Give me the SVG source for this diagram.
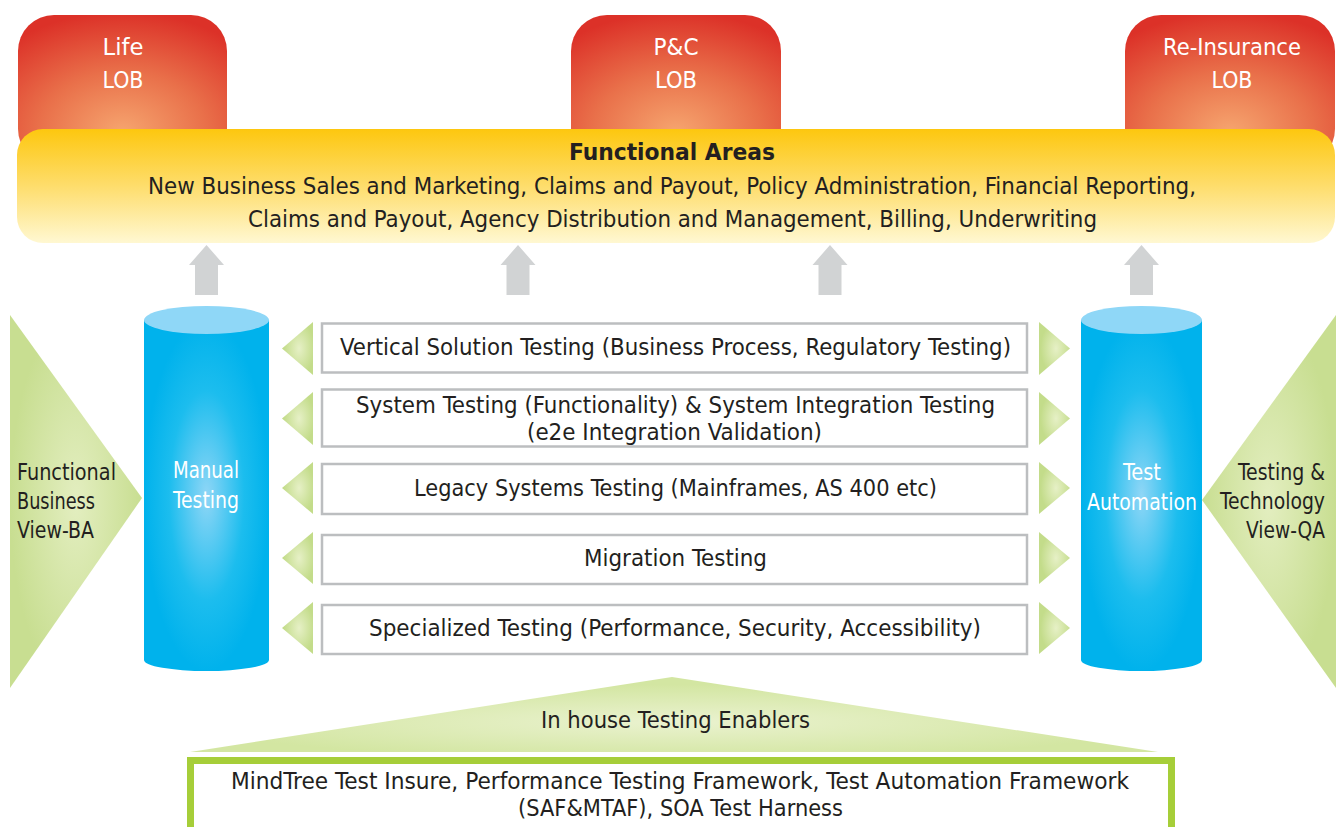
<svg xmlns="http://www.w3.org/2000/svg" width="1336" height="827" viewBox="0 0 1336 827">
<defs>
<radialGradient id="gLob" cx="0.5" cy="0.78" r="0.8">
<stop offset="0" stop-color="#F6A56F"/>
<stop offset="0.5" stop-color="#E9704A"/>
<stop offset="1" stop-color="#DC3128"/>
</radialGradient>
<linearGradient id="gYel" x1="0" y1="0" x2="0" y2="1">
<stop offset="0" stop-color="#FDC70F"/>
<stop offset="0.5" stop-color="#FEDD6C"/>
<stop offset="1" stop-color="#FFF8D2"/>
</linearGradient>
<radialGradient id="gCyl" cx="0.5" cy="0.5" r="0.5">
<stop offset="0" stop-color="#8FD6F6"/>
<stop offset="0.6" stop-color="#1CBDEE"/>
<stop offset="1" stop-color="#00B2EC"/>
</radialGradient>
<radialGradient id="gGreen" cx="0.5" cy="0.5" r="0.5">
<stop offset="0" stop-color="#E3EEC0"/>
<stop offset="1" stop-color="#C8DE91"/>
</radialGradient>
<radialGradient id="gTri" cx="0.55" cy="0.5" r="0.5">
<stop offset="0" stop-color="#E6F0C6"/>
<stop offset="1" stop-color="#C3DC8A"/>
</radialGradient>
<radialGradient id="gBase" cx="0.5" cy="0.6" r="0.5">
<stop offset="0" stop-color="#EAF2CF"/>
<stop offset="1" stop-color="#D3E6A2"/>
</radialGradient>
<style>
.t{font-family:"DejaVu Sans Condensed","Noto Sans","DejaVu Sans",sans-serif;font-size:22.5px;fill:#231F20}
.w{fill:#FFFFFF}
.c{text-anchor:middle}
.e{text-anchor:end}
.b{font-weight:bold;font-size:23.5px}
.box{fill:#FFFFFF;stroke:#BCBEC0;stroke-width:2.5}
.ga{fill:#D1D3D4}
.st{fill:url(#gTri)}
</style>
</defs>

<g id="lob-life">
<rect x="18" y="15" width="209" height="150" rx="36" fill="url(#gLob)"/>
<text class="t w c" x="123" y="55" textLength="41" lengthAdjust="spacingAndGlyphs">Life</text>
<text class="t w c" x="123" y="88" textLength="41" lengthAdjust="spacingAndGlyphs">LOB</text>
</g>
<g id="lob-pc">
<rect x="571" y="15" width="210" height="150" rx="36" fill="url(#gLob)"/>
<text class="t w c" x="676" y="55" textLength="45" lengthAdjust="spacingAndGlyphs">P&amp;C</text>
<text class="t w c" x="676" y="88" textLength="42" lengthAdjust="spacingAndGlyphs">LOB</text>
</g>
<g id="lob-reins">
<rect x="1125" y="15" width="210" height="150" rx="36" fill="url(#gLob)"/>
<text class="t w c" x="1232" y="55" textLength="138" lengthAdjust="spacingAndGlyphs">Re-Insurance</text>
<text class="t w c" x="1232" y="88" textLength="41" lengthAdjust="spacingAndGlyphs">LOB</text>
</g>

<g id="functional-areas">
<rect x="17" y="129" width="1318" height="114" rx="26" fill="url(#gYel)"/>
<text class="t b c" x="672" y="160" textLength="206" lengthAdjust="spacingAndGlyphs">Functional Areas</text>
<text class="t c" x="672" y="194" textLength="1048" lengthAdjust="spacingAndGlyphs">New Business Sales and Marketing, Claims and Payout, Policy Administration, Financial Reporting,</text>
<text class="t c" x="672.5" y="227" textLength="849" lengthAdjust="spacingAndGlyphs">Claims and Payout, Agency Distribution and Management, Billing, Underwriting</text>
</g>

<g id="connectors">
<polygon class="ga" points="206.5,245 224,265 218,265 218,295 195,295 195,265 189,265"/>
<polygon class="ga" points="518,245 535.5,265 529.5,265 529.5,295 506.5,295 506.5,265 500.5,265"/>
<polygon class="ga" points="830,245 847.5,265 841.5,265 841.5,295 818.5,295 818.5,265 812.5,265"/>
<polygon class="ga" points="1141.5,245 1159,265 1153,265 1153,295 1130,295 1130,265 1124,265"/>
<polygon class="st" points="282,348.5 313,322 313,375"/>
<polygon class="st" points="282,418.5 313,392 313,445"/>
<polygon class="st" points="282,488 313,462 313,514"/>
<polygon class="st" points="282,558 313,532 313,584"/>
<polygon class="st" points="282,628 313,602 313,654"/>
<polygon class="st" points="1070,348.5 1039,322 1039,375"/>
<polygon class="st" points="1070,418.5 1039,392 1039,445"/>
<polygon class="st" points="1070,488 1039,462 1039,514"/>
<polygon class="st" points="1070,558 1039,532 1039,584"/>
<polygon class="st" points="1070,628 1039,602 1039,654"/>
</g>

<g id="view-ba">
<polygon points="10,315 142,498 10,688" fill="url(#gGreen)"/>
<text class="t" x="17" y="480" textLength="99" lengthAdjust="spacingAndGlyphs">Functional</text>
<text class="t" x="17" y="509" textLength="78" lengthAdjust="spacingAndGlyphs">Business</text>
<text class="t" x="17" y="538" textLength="77" lengthAdjust="spacingAndGlyphs">View-BA</text>
</g>
<g id="view-qa">
<polygon points="1336,315 1202,500 1336,688" fill="url(#gGreen)"/>
<text class="t e" x="1325" y="480" textLength="87" lengthAdjust="spacingAndGlyphs">Testing &amp;</text>
<text class="t e" x="1325" y="509" textLength="105" lengthAdjust="spacingAndGlyphs">Technology</text>
<text class="t e" x="1325" y="538" textLength="79" lengthAdjust="spacingAndGlyphs">View-QA</text>
</g>

<g id="manual-testing">
<path d="M144,320 L144,660 A62.5,11 0 0 0 269,660 L269,320 Z" fill="url(#gCyl)"/>
<ellipse cx="206.5" cy="320" rx="62.5" ry="14" fill="#8FD7F7"/>
<text class="t w c" x="206" y="478" textLength="66" lengthAdjust="spacingAndGlyphs">Manual</text>
<text class="t w c" x="206" y="508" textLength="66" lengthAdjust="spacingAndGlyphs">Testing</text>
</g>
<g id="test-automation">
<path d="M1081,320 L1081,660 A60.5,11 0 0 0 1202,660 L1202,320 Z" fill="url(#gCyl)"/>
<ellipse cx="1141.5" cy="320" rx="60.5" ry="14" fill="#8FD7F7"/>
<text class="t w c" x="1142" y="480" textLength="38" lengthAdjust="spacingAndGlyphs">Test</text>
<text class="t w c" x="1142" y="510" textLength="110" lengthAdjust="spacingAndGlyphs">Automation</text>
</g>

<g id="vertical-solution">
<rect class="box" x="322" y="323.5" width="705" height="49"/>
<text class="t c" x="675.5" y="355" textLength="671" lengthAdjust="spacingAndGlyphs">Vertical Solution Testing (Business Process, Regulatory Testing)</text>
</g>
<g id="system-testing">
<rect class="box" x="322" y="389.5" width="705" height="57"/>
<text class="t c" x="675.5" y="413" textLength="639" lengthAdjust="spacingAndGlyphs">System Testing (Functionality) &amp; System Integration Testing</text>
<text class="t c" x="674.5" y="440" textLength="295" lengthAdjust="spacingAndGlyphs">(e2e Integration Validation)</text>
</g>
<g id="legacy">
<rect class="box" x="322" y="464" width="705" height="50"/>
<text class="t c" x="675.5" y="496" textLength="523" lengthAdjust="spacingAndGlyphs">Legacy Systems Testing (Mainframes, AS 400 etc)</text>
</g>
<g id="migration">
<rect class="box" x="322" y="535" width="705" height="49"/>
<text class="t c" x="675.5" y="566" textLength="183" lengthAdjust="spacingAndGlyphs">Migration Testing</text>
</g>
<g id="specialized">
<rect class="box" x="322" y="605" width="705" height="49"/>
<text class="t c" x="675" y="636" textLength="612" lengthAdjust="spacingAndGlyphs">Specialized Testing (Performance, Security, Accessibility)</text>
</g>

<g id="in-house">
<polygon points="672,677 1158,752 190,752" fill="url(#gBase)"/>
<text class="t c" x="675.5" y="728" textLength="269" lengthAdjust="spacingAndGlyphs">In house Testing Enablers</text>
</g>
<g id="enablers">
<rect x="190.5" y="760.5" width="981" height="80" fill="#FFFFFF" stroke="#A6CE39" stroke-width="7"/>
<text class="t c" x="680" y="789" textLength="898" lengthAdjust="spacingAndGlyphs">MindTree Test Insure, Performance Testing Framework, Test Automation Framework</text>
<text class="t c" x="680.5" y="816" textLength="325" lengthAdjust="spacingAndGlyphs">(SAF&amp;MTAF), SOA Test Harness</text>
</g>
</svg>
